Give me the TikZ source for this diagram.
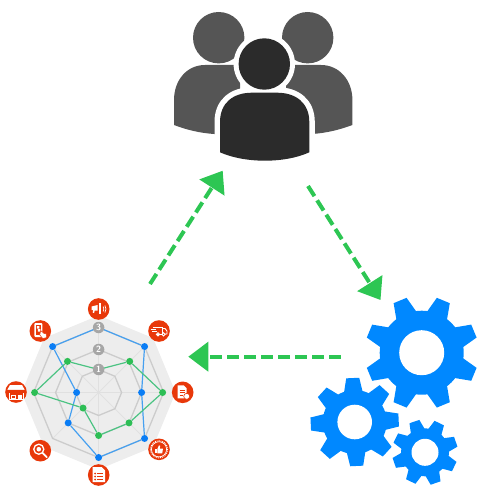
\documentclass[tikz,border=0pt]{standalone}
\usetikzlibrary{arrows.meta}
\definecolor{arrowgreen}{RGB}{45,198,83}
\definecolor{gearblue}{RGB}{0,136,255}
\definecolor{dotblue}{RGB}{10,125,245}
\definecolor{lineblue}{RGB}{70,160,240}
\definecolor{dotgreen}{RGB}{45,190,85}
\definecolor{linegreen}{RGB}{75,195,130}
\definecolor{iconred}{RGB}{232,56,10}
\definecolor{backperson}{RGB}{85,85,85}
\definecolor{frontperson}{RGB}{43,43,43}

% x y r-body r-tooth half-base half-tip r-hole rot
\newcommand{\cogwheel}[8]{
  \begin{scope}[shift={(#1,#2)}]
    \fill[gearblue] (0,0) circle[radius=#3];
    \foreach \a in {0,45,...,315}
      \fill[gearblue, rotate=\a+#8] (#3-3,-#5) -- (#4,-#6) -- (#4,#6) -- (#3-3,#5) -- cycle;
    \fill[white] (0,0) circle[radius=#7];
  \end{scope}
}
\newcommand{\frontbody}{(220,152.3) -- (220,122) .. controls (220,103) and (233,92.7) .. (252,92.7) -- (277,92.7) .. controls (296,92.7) and (309.3,103) .. (309.3,122) -- (309.3,152.3) .. controls (285,163.5) and (245,163.5) .. cycle}

\begin{document}
\begin{tikzpicture}[
  x=1pt, y=-1pt,
  flow/.style={arrowgreen, line width=4pt, dash pattern=on 12pt off 5pt, -{Triangle[length=20pt, width=29pt]}},
  ring/.style={draw=black!20, line width=1.3pt},
  spoke/.style={draw=black!12, line width=0.7pt},
  bdot/.style={circle, fill=dotblue, minimum size=7pt, inner sep=0pt},
  gdot/.style={circle, fill=dotgreen, minimum size=7pt, inner sep=0pt},
  bline/.style={draw=lineblue, line width=1.2pt},
  gline/.style={draw=linegreen, line width=1.2pt},
  level/.style={circle, fill=black!35, text=white, minimum size=11.5pt, inner sep=0pt, font=\sffamily\bfseries\fontsize{9}{9}\selectfont},
  icon/.style={circle, fill=iconred, minimum size=21.6pt, inner sep=0pt},
  mark line/.style={draw=white, line width=0.9pt},
]
\path[use as bounding box] (0,0) rectangle (500,500);

% people
\fill[backperson] (218.7,37.7) circle[radius=25.7];
\fill[backperson] (307.7,37.7) circle[radius=25.7];
\fill[backperson] (174,125) -- (174,100) .. controls (174,80) and (187,65) .. (205,65) -- (240,65) -- (240,137) -- (214,134) .. controls (200,133) and (187,130) .. cycle;
\fill[backperson] (352.4,125) -- (352.4,100) .. controls (352.4,80) and (339,65) .. (321,65) -- (286,65) -- (286,137) -- (312.4,134) .. controls (326,133) and (339,130) .. cycle;
\fill[white] (264.3,64) circle[radius=30.7];
\path[fill=white, draw=white, line width=11pt, line join=round] \frontbody;
\fill[frontperson] (264.3,64) circle[radius=25.7];
\fill[frontperson] \frontbody;

% gears
\cogwheel{421.7}{352.7}{42}{56.5}{11}{7}{22.5}{22.5}
\cogwheel{354.7}{422}{32}{44}{9.5}{6.5}{17.3}{2.6}
\cogwheel{425}{452.3}{24}{32.5}{7.5}{5.2}{13.5}{19}

% arrows
\coordinate (radarout) at (150,284);
\coordinate (peoplein) at (222.7,170.7);
\coordinate (peopleout) at (308,186);
\coordinate (gearsin) at (380.5,300);
\coordinate (gearsout) at (340.7,356.7);
\coordinate (radarin) at (188.3,356.7);
\draw[flow] (radarout) -- (peoplein);
\draw[flow] (peopleout) -- (gearsin);
\draw[flow] (gearsout) -- (radarin);

% radar
\begin{scope}[shift={(98.6,392.5)}]
  \fill[black!7] (0:77) \foreach \a in {45,90,...,315} { -- (\a:77)} -- cycle;
  \foreach \a in {0,45,...,315}
    \draw[spoke] (0,0) -- (\a:65);
  \foreach \r in {23,43,65}
    \draw[ring] (0:\r) \foreach \a in {45,90,...,315} { -- (\a:\r)} -- cycle;
  \foreach \i/\a/\r in {1/270/65, 2/315/65, 3/0/43, 4/45/65, 5/90/65, 6/135/43, 7/180/22, 8/225/65}
    \node[bdot] (b\i) at (\a:\r) {};
  \foreach \i/\a/\r in {1/270/23, 2/315/44, 3/0/64, 4/45/43, 5/90/43, 6/135/22, 7/180/64, 8/225/44}
    \node[gdot] (g\i) at (\a:\r) {};
  \draw[bline] (b1) -- (b2) -- (b3) -- (b4) -- (b5) -- (b6) -- (b7) -- (b8) -- (b1);
  \draw[gline] (g1) -- (g2) -- (g3) -- (g4) -- (g5) -- (g6) -- (g7) -- (g8) -- (g1);
  \node[level] (lvlthree) at (270:65) {3};
  \node[level] (lvltwo) at (270:43) {2};
  \node[level] (lvlone) at (270:23) {1};
\end{scope}

% icons
\node[icon] (horn) at (98.7,309) {};
\node[icon] (truck) at (159,331) {};
\node[icon] (report) at (182.7,392.3) {};
\node[icon] (badge) at (159,449.3) {};
\node[icon] (sheet) at (98.7,475) {};
\node[icon] (lens) at (40.3,450.7) {};
\node[icon] (shop) at (16,392) {};
\node[icon] (phone) at (40.3,331) {};

\begin{scope}[shift={(horn.center)}]
  \fill[white] (-7,-2.5) -- (-1,-4) -- (-1,1.5) -- (-4,1.5) -- (-4.6,4) -- (-6,3.6) -- (-5.5,1) -- (-7,1) -- cycle;
  \fill[white] (0.6,-6) rectangle (2.6,5);
  \draw[mark line, line width=0.7pt] (4.4,-2.5) .. controls (5.4,-1) and (5.4,1) .. (4.4,2.5);
  \draw[mark line, line width=0.7pt] (6.2,-3.5) .. controls (7.6,-1) and (7.6,1) .. (6.2,3.5);
\end{scope}
\begin{scope}[shift={(truck.center)}]
  \draw[mark line] (-6,-4) -- (3,-4) -- (3,3) -- (-3,3);
  \draw[mark line] (3,-2.5) -- (6,-2.5) -- (8,0) -- (8,3) -- (6,3);
  \draw[mark line] (-8.5,-2) -- (-3,-2) (-7,0) -- (-2.5,0);
  \draw[mark line] (-1,3.4) circle[radius=1.7] (4.5,3.4) circle[radius=1.7];
\end{scope}
\begin{scope}[shift={(report.center)}]
  \fill[white] (-5,-7) -- (1,-7) -- (4,-4) -- (4,6) -- (-5,6) -- cycle;
  \draw[iconred, line width=0.8pt] (-3,-2) -- (2,-2) (-3,0.5) -- (2,0.5) (-3,3) -- (0,3);
  \fill[white, draw=iconred, line width=0.6pt] (4,4) circle[radius=3];
\end{scope}
\begin{scope}[shift={(badge.center)}]
  \draw[white, line width=0.9pt, densely dotted] (0,0) circle[radius=8.6];
  \draw[mark line, line width=0.7pt] (0,0) circle[radius=7.6];
  \fill[white] (-4,-0.5) rectangle (-2.3,4);
  \fill[white] (-1.6,-0.5) -- (0,-4) -- (1.2,-3.5) -- (0.8,-0.8) -- (4,-0.8) -- (3.2,4) -- (-1.6,4) -- cycle;
\end{scope}
\begin{scope}[shift={(sheet.center)}]
  \fill[white] (-6,-8) -- (3,-8) -- (6.5,-4.5) -- (6.5,7) -- (-6,7) -- cycle;
  \draw[iconred, line width=0.9pt] (-1.5,-1.5) -- (4,-1.5) (-1.5,1.5) -- (4,1.5) (-1.5,4.5) -- (4,4.5);
  \fill[iconred] (-3.5,-1.5) circle[radius=1] (-3.5,1.5) circle[radius=1] (-3.5,4.5) circle[radius=1];
\end{scope}
\begin{scope}[shift={(lens.center)}]
  \draw[white, line width=1.3pt] (-1.5,-1.5) circle[radius=5];
  \fill[white] (-1.5,-1.5) circle[radius=2.3];
  \draw[white, line width=1.8pt, line cap=round] (2.4,2.4) -- (6.5,6.5);
\end{scope}
\begin{scope}[shift={(shop.center)}]
  \fill[white] (-6,-7) -- (6,-7) -- (8.5,-2.5) -- (-8.5,-2.5) -- cycle;
  \fill[white] (-8.5,-2.5) arc[start angle=180, end angle=0, x radius=2.83, y radius=-2]
    arc[start angle=180, end angle=0, x radius=2.83, y radius=-2]
    arc[start angle=180, end angle=0, x radius=2.83, y radius=-2] -- cycle;
  \draw[mark line] (-7,1) -- (-7,7) -- (7,7) -- (7,1);
  \fill[white] (-5,2.5) rectangle (0,7);
  \fill[iconred] (-4,3.5) rectangle (-1,5.5);
  \fill[white] (2,2.5) rectangle (5.5,7);
\end{scope}
\begin{scope}[shift={(phone.center)}]
  \fill[white, rounded corners=1pt] (-6,-8) rectangle (2,6);
  \fill[iconred] (-4.6,-6) rectangle (0.6,3.5);
  \fill[white] (-3.5,-5) rectangle (-1,-2.5) (-2.5,-2) rectangle (0,0.5);
  \fill[white, draw=iconred, line width=0.5pt] (0,1) -- (1.5,0) -- (3,2) -- (6,3) -- (6.5,6.5) -- (2.5,7.5) -- (-0.5,4) -- cycle;
\end{scope}
\end{tikzpicture}
\end{document}
